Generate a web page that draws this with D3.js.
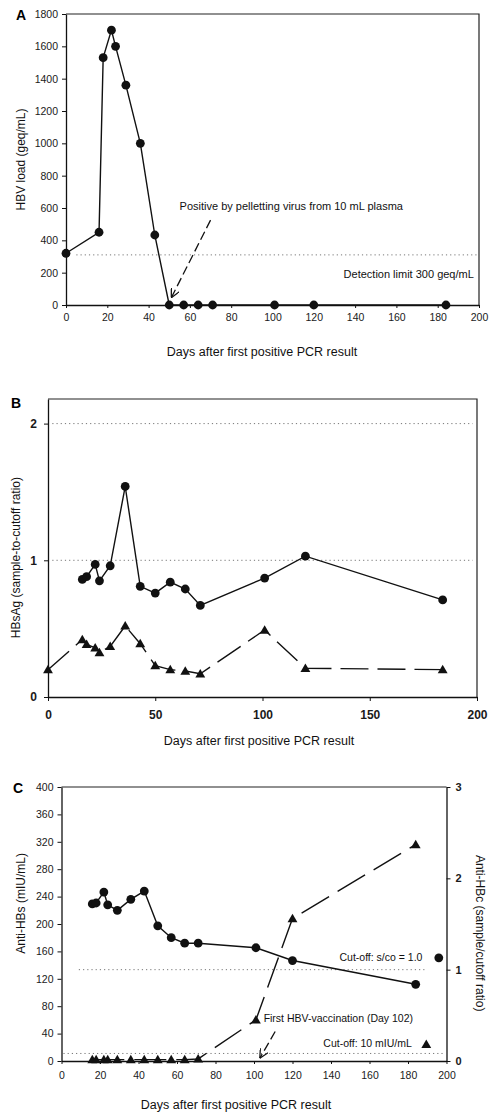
<!DOCTYPE html>
<html>
<head>
<meta charset="utf-8">
<script src="https://cdn.jsdelivr.net/npm/d3@7"></script>
<style>
  body { margin: 0; background: #fff; }
  svg { display: block; font-family: "Liberation Sans", Arial, sans-serif; }
  .domain { stroke: #111; stroke-width: 1.3; }
  .tick line { stroke: #111; stroke-width: 1; }
  .tick text { fill: #1a1a1a; }
</style>
</head>
<body>
<div id="chart"></div>
<script>
// sampling days shared by the three panels
const days = [0, 16, 18, 22, 24, 29, 36, 43, 50, 57, 64, 71, 101, 120, 184];

// A: HBV load (geq/mL)
const hbvLoad = [320, 450, 1530, 1700, 1600, 1360, 1000, 433, 0, 0, 0, 0, 0, 0, 0];

// B: HBsAg sample-to-cutoff ratio, two assays
const hbsagCircles = [null, 0.86, 0.88, 0.97, 0.85, 0.96, 1.54, 0.81, 0.76, 0.84, 0.79, 0.67, 0.87, 1.03, 0.71];
const hbsagTriangles = [0.20, 0.42, 0.385, 0.36, 0.325, 0.37, 0.52, 0.39, 0.23, 0.20, 0.19, 0.17, 0.49, 0.21, 0.20];

// C: anti-HBc (s/co, right axis) and anti-HBs (mIU/mL, left axis)
const antiHBc = [null, 1.72, 1.73, 1.85, 1.71, 1.65, 1.77, 1.86, 1.48, 1.35, 1.29, 1.29, 1.24, 1.10, 0.84];
const antiHBs = [null, 2, 2, 2, 2, 2, 2, 2, 2, 2, 2, 3, 60, 208, 316];

const xTicksA = d3.range(0, 201, 20);
const yTicksA = d3.range(0, 1801, 200);
const xTicksB = [0, 50, 100, 150, 200];
const yTicksB = [0, 1, 2];
const xTicksC = d3.range(0, 201, 20);
const yTicksC = d3.range(0, 401, 40);
const yTicksCR = [0, 1, 2, 3];

const xLabel = "Days after first positive PCR result";
const plain = d3.format("d");

const svg = d3.select("#chart").append("svg")
    .attr("width", 489)
    .attr("height", 1114);

const defs = svg.append("defs");
defs.append("marker")
    .attr("id", "arrow")
    .attr("viewBox", "0 0 10 10")
    .attr("refX", 10).attr("refY", 5)
    .attr("markerWidth", 9).attr("markerHeight", 9)
    .attr("markerUnits", "userSpaceOnUse")
    .attr("orient", "auto")
  .append("path")
    .attr("d", "M0,0 L10,5 L0,10")
    .attr("fill", "none")
    .attr("stroke", "#111")
    .attr("stroke-width", 1.4);

const tri = d3.symbol().type(d3.symbolTriangle).size(42);

function zip(vals) {
    return days.map((d, i) => ({ day: d, v: vals[i] })).filter(d => d.v !== null);
}

function frame(g, x, y) {
    const [x0, x1] = x.range();
    const [y0, y1] = y.range();
    g.append("path")
        .attr("d", `M${x0},${y1} H${x1} V${y0}`)
        .attr("fill", "none")
        .attr("stroke", "#222")
        .attr("stroke-width", 1.2);
}

function dotted(g, x0, x1, yv) {
    g.append("line")
        .attr("x1", x0).attr("x2", x1)
        .attr("y1", yv).attr("y2", yv)
        .attr("stroke", "#777")
        .attr("stroke-width", 1)
        .attr("stroke-dasharray", "1.2,3");
}

function series(g, data, x, y, dash, symbol) {
    const line = d3.line().x(d => x(d.day)).y(d => y(d.v));
    g.append("path")
        .datum(data)
        .attr("d", line)
        .attr("fill", "none")
        .attr("stroke", "#111")
        .attr("stroke-width", 1.4)
        .attr("stroke-dasharray", dash);
    if (symbol === "circle") {
        g.selectAll(null).data(data).enter().append("circle")
            .attr("cx", d => x(d.day))
            .attr("cy", d => y(d.v))
            .attr("r", 4.4)
            .attr("fill", "#111");
    } else {
        g.selectAll(null).data(data).enter().append("path")
            .attr("d", tri)
            .attr("transform", d => `translate(${x(d.day)},${y(d.v) + 0.8})`)
            .attr("fill", "#111");
    }
}

// ---------- Panel A ----------
const gA = svg.append("g");
const xA = d3.scaleLinear().domain([0, 200]).range([66, 479]);
const yA = d3.scaleLinear().domain([0, 1800]).range([305, 14]);

frame(gA, xA, yA);
dotted(gA, xA(5), xA(199), yA(310));

gA.append("g")
    .attr("transform", `translate(0,${yA(0)})`)
    .call(d3.axisBottom(xA).tickValues(xTicksA).tickFormat(plain).tickSize(3).tickPadding(6).tickSizeOuter(0))
    .call(g => g.selectAll("text").attr("font-size", 10.5));
gA.append("g")
    .attr("transform", `translate(${xA(0)},0)`)
    .call(d3.axisLeft(yA).tickValues(yTicksA).tickFormat(plain).tickSize(4).tickPadding(4).tickSizeOuter(0))
    .call(g => g.selectAll("text").attr("font-size", 10.5));

series(gA, zip(hbvLoad), xA, yA, null, "circle");

gA.append("text")
    .attr("x", xA(55)).attr("y", yA(590))
    .attr("font-size", 11).attr("fill", "#111")
    .text("Positive by pelletting virus from 10 mL plasma");
gA.append("text")
    .attr("x", xA(197.5)).attr("y", yA(170))
    .attr("text-anchor", "end")
    .attr("font-size", 11).attr("fill", "#111")
    .text("Detection limit 300 geq/mL");
gA.append("line")
    .attr("x1", xA(70)).attr("y1", yA(525))
    .attr("x2", xA(51)).attr("y2", yA(45))
    .attr("stroke", "#111").attr("stroke-width", 1.3)
    .attr("stroke-dasharray", "9,4")
    .attr("marker-end", "url(#arrow)");

gA.append("text")
    .attr("x", 21).attr("y", 20)
    .attr("text-anchor", "middle")
    .attr("font-size", 14).attr("font-weight", "bold")
    .text("A");
gA.append("text")
    .attr("transform", `translate(25,${yA(900)}) rotate(-90)`)
    .attr("text-anchor", "middle")
    .attr("font-size", 12).attr("fill", "#111")
    .text("HBV load (geq/mL)");
gA.append("text")
    .attr("x", 262).attr("y", 356)
    .attr("text-anchor", "middle")
    .attr("font-size", 12.5).attr("fill", "#111")
    .text(xLabel);

// ---------- Panel B ----------
const gB = svg.append("g");
const xB = d3.scaleLinear().domain([0, 200]).range([48, 477]);
const yB = d3.scaleLinear().domain([0, 2.18]).range([697, 399]);

frame(gB, xB, yB);
dotted(gB, xB(2), xB(198), yB(2));
dotted(gB, xB(2), xB(198), yB(1));

gB.append("g")
    .attr("transform", `translate(0,${yB(0)})`)
    .call(d3.axisBottom(xB).tickValues(xTicksB).tickFormat(plain).tickSize(4).tickPadding(9).tickSizeOuter(0))
    .call(g => g.selectAll("text").attr("font-size", 12).attr("font-weight", "bold"));
gB.append("g")
    .attr("transform", `translate(${xB(0)},0)`)
    .call(d3.axisLeft(yB).tickValues(yTicksB).tickFormat(plain).tickSize(4).tickPadding(7).tickSizeOuter(0))
    .call(g => g.selectAll("text").attr("font-size", 12).attr("font-weight", "bold"));

series(gB, zip(hbsagCircles), xB, yB, null, "circle");
series(gB, zip(hbsagTriangles), xB, yB, "28,9", "triangle");

gB.append("text")
    .attr("x", 16).attr("y", 408)
    .attr("text-anchor", "middle")
    .attr("font-size", 14).attr("font-weight", "bold")
    .text("B");
gB.append("text")
    .attr("transform", `translate(20,${yB(1.02)}) rotate(-90)`)
    .attr("text-anchor", "middle")
    .attr("font-size", 12).attr("fill", "#111")
    .text("HBsAg (sample-to-cutoff ratio)");
gB.append("text")
    .attr("x", 259).attr("y", 745)
    .attr("text-anchor", "middle")
    .attr("font-size", 12.5).attr("fill", "#111")
    .text(xLabel);

// ---------- Panel C ----------
const gC = svg.append("g");
const xC = d3.scaleLinear().domain([0, 200]).range([61.5, 446.5]);
const yC = d3.scaleLinear().domain([0, 400]).range([1061, 787]);
const yCR = d3.scaleLinear().domain([0, 3]).range([1061, 787]);

gC.append("line")
    .attr("x1", xC(0)).attr("x2", xC(200))
    .attr("y1", yC(400)).attr("y2", yC(400))
    .attr("stroke", "#222").attr("stroke-width", 1.2);
dotted(gC, xC(9), xC(190), yCR(1));
dotted(gC, xC(1), xC(199), yC(11));

gC.append("g")
    .attr("transform", `translate(0,${yC(0)})`)
    .call(d3.axisBottom(xC).tickValues(xTicksC).tickFormat(plain).tickSize(3).tickPadding(8).tickSizeOuter(0))
    .call(g => g.selectAll("text").attr("font-size", 10.5));
gC.append("g")
    .attr("transform", `translate(${xC(0)},0)`)
    .call(d3.axisLeft(yC).tickValues(yTicksC).tickFormat(plain).tickSize(4).tickPadding(4).tickSizeOuter(0))
    .call(g => g.selectAll("text").attr("font-size", 10.5));
gC.append("g")
    .attr("transform", `translate(${xC(200)},0)`)
    .call(d3.axisRight(yCR).tickValues(yTicksCR).tickFormat(plain).tickSize(4).tickPadding(5).tickSizeOuter(0))
    .call(g => g.selectAll("text").attr("font-size", 11).attr("font-weight", "bold"));

series(gC, zip(antiHBc), xC, yCR, null, "circle");
series(gC, zip(antiHBs), xC, yC, "32,10", "triangle");

// legend / cut-off labels
gC.append("text")
    .attr("x", xC(187.5)).attr("y", yCR(1.1))
    .attr("text-anchor", "end")
    .attr("font-size", 10.5).attr("fill", "#111")
    .text("Cut-off: s/co = 1.0");
gC.append("circle")
    .attr("cx", xC(196)).attr("cy", yCR(1.13))
    .attr("r", 4.4).attr("fill", "#111");
gC.append("text")
    .attr("x", xC(182)).attr("y", yC(20))
    .attr("text-anchor", "end")
    .attr("font-size", 10.5).attr("fill", "#111")
    .text("Cut-off: 10 mIU/mL");
gC.append("path")
    .attr("d", tri)
    .attr("transform", `translate(${xC(189.5)},${yC(23)})`)
    .attr("fill", "#111");
gC.append("text")
    .attr("x", xC(105)).attr("y", yC(57))
    .attr("font-size", 10.5).attr("fill", "#111")
    .text("First HBV-vaccination (Day 102)");
gC.append("line")
    .attr("x1", xC(111)).attr("y1", yC(43))
    .attr("x2", xC(103)).attr("y2", yC(4))
    .attr("stroke", "#111").attr("stroke-width", 1.3)
    .attr("stroke-dasharray", "9,4")
    .attr("marker-end", "url(#arrow)");

gC.append("text")
    .attr("x", 18).attr("y", 793)
    .attr("text-anchor", "middle")
    .attr("font-size", 14).attr("font-weight", "bold")
    .text("C");
gC.append("text")
    .attr("transform", `translate(25,${yC(230)}) rotate(-90)`)
    .attr("text-anchor", "middle")
    .attr("font-size", 12).attr("fill", "#111")
    .text("Anti-HBs (mIU/mL)");
gC.append("text")
    .attr("transform", `translate(476,${yCR(1.4)}) rotate(90)`)
    .attr("text-anchor", "middle")
    .attr("font-size", 12).attr("fill", "#111")
    .text("Anti-HBc (sample/cutoff ratio)");
gC.append("text")
    .attr("x", 236).attr("y", 1109)
    .attr("text-anchor", "middle")
    .attr("font-size", 12.5).attr("fill", "#111")
    .text(xLabel);
</script>
</body>
</html>
